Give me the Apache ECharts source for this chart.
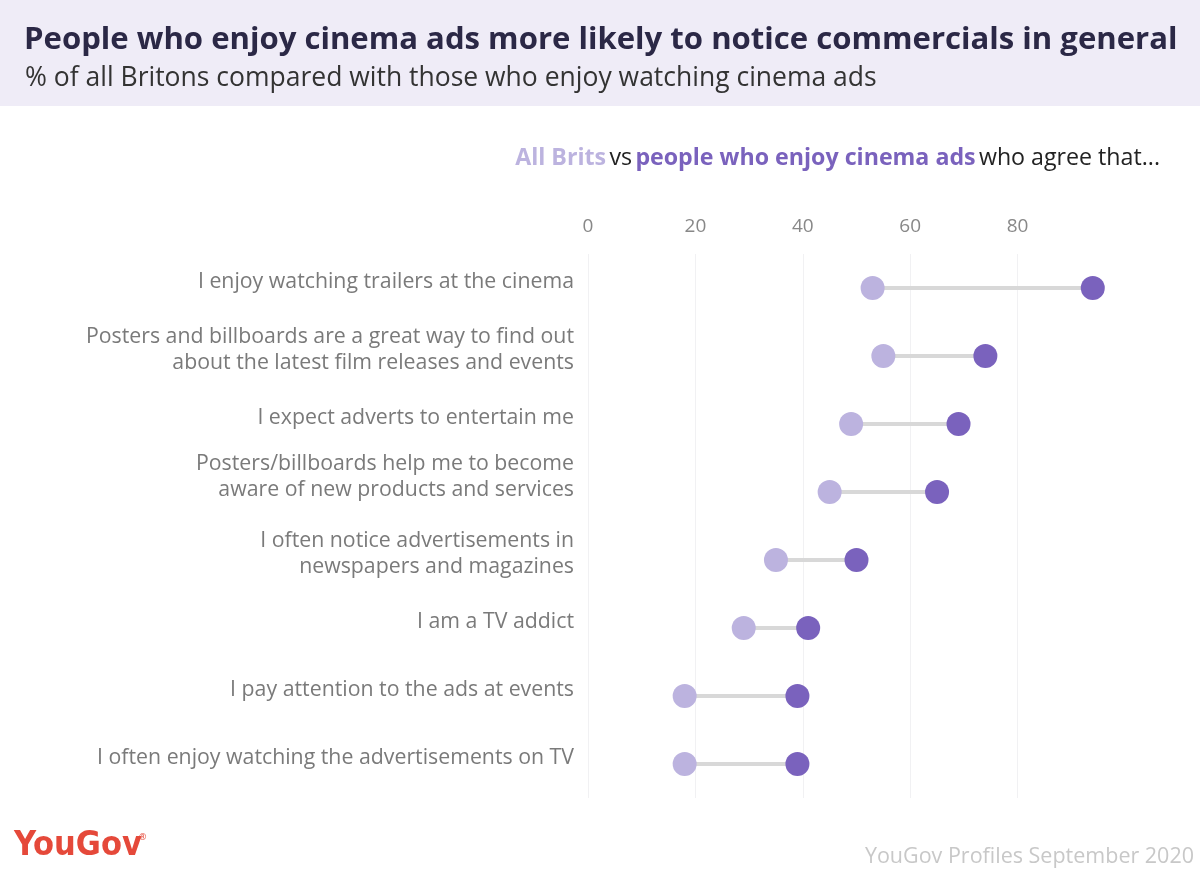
<!DOCTYPE html>
<html>
<head>
<meta charset="utf-8">
<script src="https://cdn.jsdelivr.net/npm/echarts@6/dist/echarts.min.js"></script>
<style>
html,body{margin:0;padding:0;background:#fff;}
#chart{width:1200px;height:870px;}
</style>
</head>
<body>
<div id="chart"></div>
<script>
const categories = [
  'I enjoy watching trailers at the cinema',
  'Posters and billboards are a great way to find out\nabout the latest film releases and events',
  'I expect adverts to entertain me',
  'Posters/billboards help me to become\naware of new products and services',
  'I often notice advertisements in\nnewspapers and magazines',
  'I am a TV addict',
  'I pay attention to the ads at events',
  'I often enjoy watching the advertisements on TV'
];
const allBrits = [53, 55, 49, 45, 35, 29, 18, 18];
const cinemaFans = [94, 74, 69, 65, 50, 41, 39, 39];
const xTicks = [0, 20, 40, 60, 80];

const FONT = '"Open Sans", Lato, sans-serif';
const LIGHT = '#bcb3df';
const DARK = '#7a62bd';

const chart = echarts.init(document.getElementById('chart'), null, {renderer: 'canvas'});

const pairData = categories.map((c, i) => [i, allBrits[i], cinemaFans[i]]);

const option = {
  animation: false,
  backgroundColor: '#ffffff',
  graphic: [
    {type: 'rect', left: 0, top: 0, shape: {width: 1200, height: 106}, style: {fill: '#efecf7'}, z: -1},
    {type: 'text', left: 24, top: 25, style: {text: 'People who enjoy cinema ads more likely to notice commercials in general', font: 'bold 31.1px ' + FONT, fill: '#2b2846'}},
    {type: 'text', left: 25, top: 65, style: {text: '% of all Britons compared with those who enjoy watching cinema ads', font: '26.5px ' + FONT, fill: '#333333'}},
    {type: 'text', right: 40, top: 147, style: {
      text: '{a|All Brits} {n|vs} {b|people who enjoy cinema ads} {n|who agree that...}',
      rich: {
        a: {font: 'bold 23.2px ' + FONT, fill: LIGHT},
        b: {font: 'bold 23.2px ' + FONT, fill: DARK},
        n: {font: '23.2px ' + FONT, fill: '#222222'}
      }
    }},
    {type: 'text', left: 14, top: 829, style: {text: 'YouGov', font: 'bold 34px "Liberation Sans Narrow", "DejaVu Sans Condensed", Lato, sans-serif', fill: '#e5493a'}},
    {type: 'text', left: 139, top: 833, style: {text: '®', font: '9px ' + FONT, fill: '#e5493a'}},
    {type: 'text', right: 6, top: 846, style: {text: 'YouGov Profiles September 2020', font: '21.5px ' + FONT, fill: '#c8c8c8'}}
  ],
  grid: {left: 588, right: 75, top: 254, bottom: 72, containLabel: false},
  xAxis: {
    type: 'value',
    position: 'top',
    min: 0,
    max: 100,
    interval: 20,
    axisLine: {show: false},
    axisTick: {show: false},
    axisLabel: {
      show: true, showMaxLabel: false, margin: 18, fontSize: 19, color: '#888888', fontFamily: FONT,
      formatter: v => xTicks.indexOf(v) >= 0 ? String(v) : ''
    },
    splitLine: {show: true, showMaxLine: false, lineStyle: {color: '#f1f1f3', width: 1}}
  },
  yAxis: {
    type: 'category',
    inverse: true,
    data: categories,
    axisLine: {show: false},
    axisTick: {show: false},
    splitLine: {show: false},
    axisLabel: {
      margin: 14, fontSize: 21.3, color: '#7a7a7a', fontFamily: FONT,
      lineHeight: 26, align: 'right',
      formatter: (v, i) => v + (i === 3 ? '\n{s2| }' : '\n{s| }'),
      rich: {
        s: {fontSize: 1, lineHeight: 12},
        s2: {fontSize: 1, lineHeight: 30}
      }
    }
  },
  series: [
    {
      type: 'custom',
      data: pairData,
      encode: {x: [1, 2], y: 0},
      z: 1,
      renderItem: function (params, api) {
        const i = api.value(0);
        const p1 = api.coord([api.value(1), i]);
        const p2 = api.coord([api.value(2), i]);
        return {
          type: 'line',
          shape: {x1: p1[0], y1: p1[1], x2: p2[0], y2: p2[1]},
          style: {stroke: '#d8d8d8', lineWidth: 4}
        };
      }
    },
    {
      type: 'scatter',
      name: 'All Brits',
      data: allBrits.map((v, i) => [v, i]),
      symbolSize: 24,
      itemStyle: {color: LIGHT, opacity: 1},
      z: 3
    },
    {
      type: 'scatter',
      name: 'People who enjoy cinema ads',
      data: cinemaFans.map((v, i) => [v, i]),
      symbolSize: 24,
      itemStyle: {color: DARK, opacity: 1},
      z: 3
    }
  ]
};
chart.setOption(option);
</script>
</body>
</html>
